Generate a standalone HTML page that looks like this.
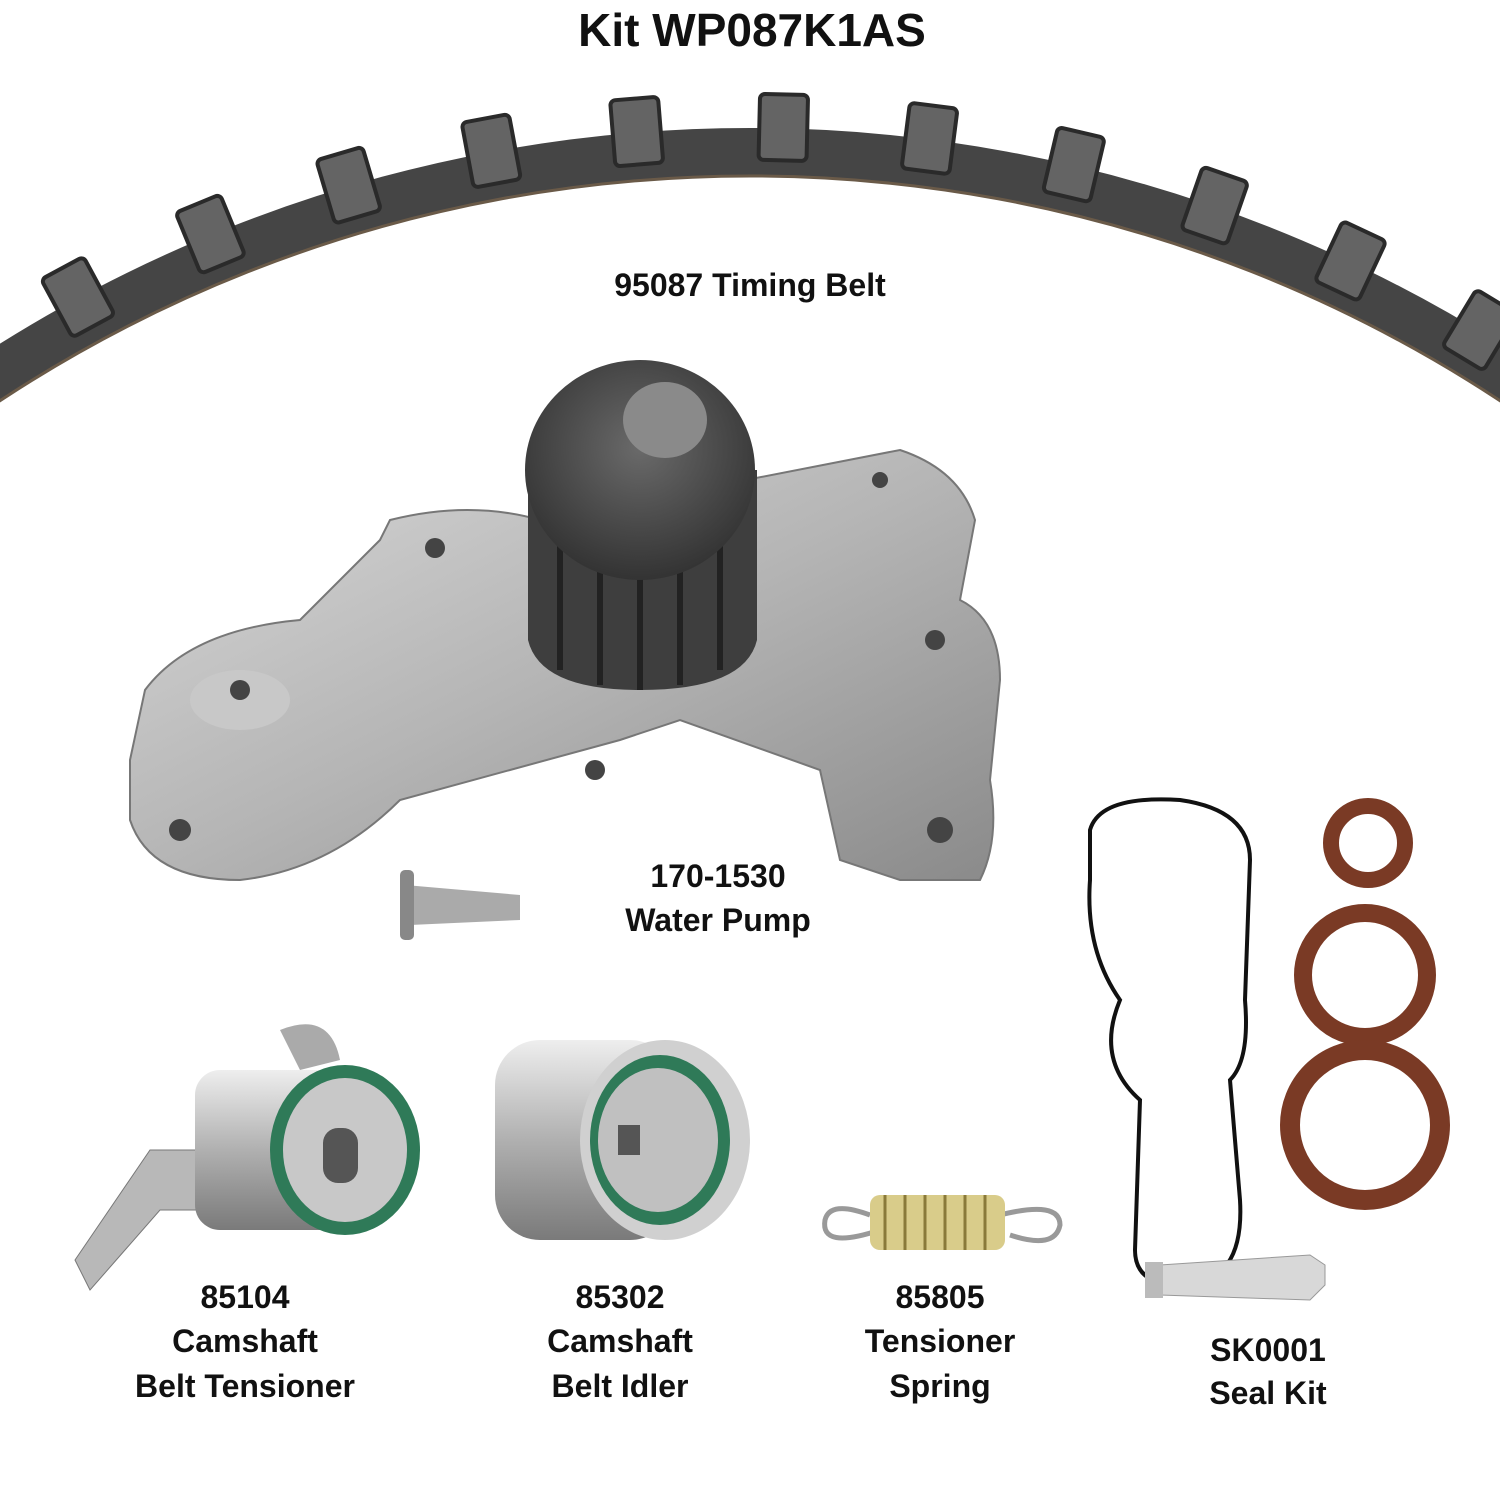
<!DOCTYPE html>
<html><head><meta charset="utf-8"><style>
html,body{margin:0;padding:0;background:#fff;width:1500px;height:1500px;overflow:hidden;}
svg{display:block}
text{font-family:"Liberation Sans",Arial,sans-serif;font-weight:bold;fill:#111;text-anchor:middle}
</style></head><body>
<svg width="1500" height="1500" viewBox="0 0 1500 1500" xmlns="http://www.w3.org/2000/svg">
<defs>
<linearGradient id="pg" x1="0" y1="0" x2="1" y2="1"><stop offset="0" stop-color="#d9d9d9"/><stop offset="0.5" stop-color="#b5b5b5"/><stop offset="1" stop-color="#8a8a8a"/></linearGradient>
<linearGradient id="cyl" x1="0" y1="0" x2="0" y2="1"><stop offset="0" stop-color="#eee"/><stop offset="0.5" stop-color="#b0b0b0"/><stop offset="1" stop-color="#7a7a7a"/></linearGradient>
<radialGradient id="spr" cx="0.5" cy="0.4" r="0.6"><stop offset="0" stop-color="#6a6a6a"/><stop offset="1" stop-color="#333"/></radialGradient>
</defs>
<text x="752" y="46" font-size="46">Kit WP087K1AS</text>
<!-- belt -->
<circle cx="750" cy="1540" r="1388" fill="none" stroke="#454545" stroke-width="48"/>
<circle cx="750" cy="1540" r="1364" fill="none" stroke="#6a5a48" stroke-width="3"/>
<g id="teeth" fill="#646464" stroke="#2a2a2a" stroke-width="4"></g>
<script>
(function(){var g=document.getElementById('teeth');var cx=750,cy=1540,R=1413;
for(var a=-42;a<=36;a+=5.95){var aa=a+1.7;var r=aa*Math.PI/180;var x=cx+R*Math.sin(r),y=cy-R*Math.cos(r);
var e=document.createElementNS('http://www.w3.org/2000/svg','rect');e.setAttribute('x',-24);e.setAttribute('y',-33);e.setAttribute('width',48);e.setAttribute('height',66);e.setAttribute('rx',5);
e.setAttribute('transform','translate('+x+','+y+') rotate('+aa+')');g.appendChild(e);}})();
</script>
<text x="750" y="296" font-size="32">95087 Timing Belt</text>
<!-- water pump -->
<path d="M130,760 L145,690 Q190,630 300,620 L380,540 L390,520 Q470,500 540,520 L900,450 Q960,470 975,520 L960,600 Q1000,620 1000,680 L990,780 Q1000,840 980,880 L900,880 L840,860 L820,770 L680,720 L620,740 L400,800 Q330,870 240,880 Q150,880 130,820 Z" fill="url(#pg)" stroke="#777" stroke-width="2"/>
<ellipse cx="240" cy="700" rx="50" ry="30" fill="#c8c8c8"/>
<circle cx="240" cy="690" r="10" fill="#444"/>
<circle cx="180" cy="830" r="11" fill="#444"/><circle cx="595" cy="770" r="10" fill="#444"/>
<circle cx="940" cy="830" r="13" fill="#444"/><circle cx="435" cy="548" r="10" fill="#444"/>
<circle cx="935" cy="640" r="10" fill="#444"/><circle cx="880" cy="480" r="8" fill="#444"/>
<path d="M528,470 L528,640 Q540,690 640,690 Q745,690 757,640 L757,470 Z" fill="#3e3e3e"/>
<g stroke="#222" stroke-width="6"><line x1="560" y1="500" x2="560" y2="670"/><line x1="600" y1="500" x2="600" y2="685"/><line x1="640" y1="500" x2="640" y2="690"/><line x1="680" y1="500" x2="680" y2="685"/><line x1="720" y1="500" x2="720" y2="670"/></g>
<ellipse cx="640" cy="470" rx="115" ry="110" fill="url(#spr)"/>
<ellipse cx="665" cy="420" rx="42" ry="38" fill="#8a8a8a"/>
<path d="M405,885 L520,895 L520,920 L410,925 Z" fill="#aaa"/><rect x="400" y="870" width="14" height="70" rx="5" fill="#888"/>
<text x="718" y="887" font-size="32">170-1530</text>
<text x="718" y="931" font-size="32">Water Pump</text>
<!-- tensioner -->
<path d="M75,1260 L150,1150 L260,1150 L250,1210 L160,1210 L90,1290 Z" fill="#b8b8b8" stroke="#777"/>
<path d="M280,1030 Q330,1010 340,1060 L300,1070 Z" fill="#aaa"/>
<rect x="195" y="1070" width="150" height="160" rx="25" fill="url(#cyl)"/>
<ellipse cx="345" cy="1150" rx="75" ry="85" fill="#2f7a58"/><ellipse cx="345" cy="1150" rx="62" ry="72" fill="#c8c8c8"/>
<rect x="323" y="1128" width="35" height="55" rx="15" fill="#555"/>
<!-- idler -->
<rect x="495" y="1040" width="180" height="200" rx="45" fill="url(#cyl)"/>
<ellipse cx="665" cy="1140" rx="85" ry="100" fill="#d0d0d0"/>
<ellipse cx="660" cy="1140" rx="70" ry="85" fill="#2f7a58"/><ellipse cx="658" cy="1140" rx="60" ry="72" fill="#c0c0c0"/>
<rect x="618" y="1125" width="22" height="30" fill="#555"/>
<!-- spring -->
<path d="M880,1230 Q820,1250 825,1220 Q830,1200 870,1215" fill="none" stroke="#999" stroke-width="5"/>
<path d="M1000,1215 Q1060,1200 1060,1225 Q1055,1250 1010,1235" fill="none" stroke="#999" stroke-width="5"/>
<rect x="870" y="1195" width="135" height="55" rx="10" fill="#d9cc8a"/>
<g stroke="#8a7a3a" stroke-width="3"><line x1="885" y1="1195" x2="885" y2="1250"/><line x1="905" y1="1195" x2="905" y2="1250"/><line x1="925" y1="1195" x2="925" y2="1250"/><line x1="945" y1="1195" x2="945" y2="1250"/><line x1="965" y1="1195" x2="965" y2="1250"/><line x1="985" y1="1195" x2="985" y2="1250"/></g>
<!-- gasket -->
<path d="M1090,830 Q1100,795 1180,800 Q1250,810 1250,860 L1245,1000 Q1250,1060 1230,1080 L1240,1200 Q1245,1285 1180,1285 Q1135,1285 1135,1250 L1140,1100 Q1095,1060 1120,1000 Q1085,950 1090,880 Z" fill="none" stroke="#111" stroke-width="4"/>
<!-- seals -->
<circle cx="1368" cy="843" r="37" fill="none" stroke="#7a3a25" stroke-width="16"/>
<circle cx="1365" cy="975" r="62" fill="none" stroke="#7a3a25" stroke-width="18"/>
<circle cx="1365" cy="1125" r="75" fill="none" stroke="#7a3a25" stroke-width="20"/>
<!-- tube -->
<path d="M1160,1265 L1310,1255 L1325,1265 L1325,1285 L1310,1300 L1160,1295 Z" fill="#d8d8d8" stroke="#999"/>
<rect x="1145" y="1262" width="18" height="36" fill="#bbb"/>
<!-- labels -->
<g font-size="32">
<text x="245" y="1308">85104</text><text x="245" y="1352">Camshaft</text><text x="245" y="1397">Belt Tensioner</text>
<text x="620" y="1308">85302</text><text x="620" y="1352">Camshaft</text><text x="620" y="1397">Belt Idler</text>
<text x="940" y="1308">85805</text><text x="940" y="1352">Tensioner</text><text x="940" y="1397">Spring</text>
<text x="1268" y="1361">SK0001</text><text x="1268" y="1404">Seal Kit</text>
</g>
</svg>
</body></html>
